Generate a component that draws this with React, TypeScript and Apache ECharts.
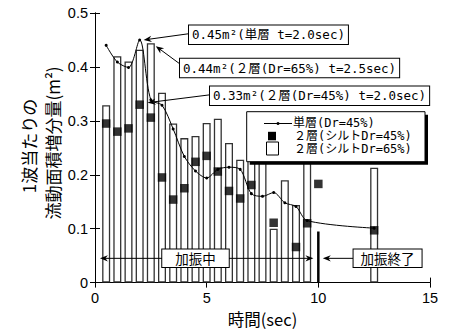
import React, { useEffect, useRef } from 'react';
import * as echarts from 'echarts';

// 2層(シルトDr=65%) open bars
const barTimes = [0.5, 1, 1.5, 2, 2.5, 3, 3.5, 4, 4.5, 5, 5.5, 6, 6.5, 7, 7.5, 8, 8.5, 9, 9.5, 12.5];
const barValues = [0.329, 0.42, 0.41, 0.432, 0.444, 0.352, 0.295, 0.268, 0.272, 0.296, 0.304, 0.259, 0.228, 0.228, 0.229, 0.1, 0.19, 0.144, 0.228, 0.213];

// 2層(シルトDr=45%) filled squares
const squareTimes = [0.5, 1, 1.5, 2, 2.5, 3, 3.5, 4, 4.5, 5, 5.5, 6, 6.5, 7, 8, 9, 9.5, 10, 12.5];
const squareValues = [0.295, 0.28, 0.286, 0.33, 0.306, 0.195, 0.154, 0.175, 0.224, 0.235, 0.206, 0.17, 0.156, 0.181, 0.111, 0.066, 0.11, 0.183, 0.097];

// 単層(Dr=45%) line
const lineTimes = [0.5, 1, 1.5, 2, 2.5, 3, 3.5, 4, 4.5, 5, 5.5, 6, 6.5, 7, 7.5, 8, 8.5, 9, 9.5, 12.5];
const lineValues = [0.44, 0.409, 0.399, 0.45, 0.339, 0.329, 0.285, 0.234, 0.207, 0.194, 0.21, 0.214, 0.21, 0.165, 0.16, 0.167, 0.148, 0.141, 0.115, 0.101];

const shakeEndTime = 10;
const shakeEndMarkTop = 0.095;
const shakingArrow = [0.22, 9.78];
const endArrow = [11.57, 10.2];
const arrowLevel = 0.045;

const seriesNames = ['単層(Dr=45%)', '２層(シルトDr=45%)', '２層(シルトDr=65%)'];
const annotations = [
  { text: '0.45m²(単層 t=2.0sec)', t: 2, v: 0.45 },
  { text: '0.44m²(２層(Dr=65%) t=2.5sec)', t: 2.5, v: 0.444 },
  { text: '0.33m²(２層(Dr=45%) t=2.0sec)', t: 2, v: 0.33 },
];

const MONO = '"DejaVu Sans Mono", "Noto Sans CJK JP", sans-serif';
const CJK = '"Noto Sans CJK JP", sans-serif';
const TICK = '"Liberation Sans", Arial, sans-serif';

export default function App() {
  const ref = useRef<HTMLDivElement>(null);
  useEffect(() => {
    document.body.style.margin = '0';
    const chart = echarts.init(ref.current!, null, { renderer: 'svg' });
    const axisCommon = {
      axisLine: { show: true, lineStyle: { color: '#000', width: 1 } },
      axisTick: { show: true, inside: true, length: 5, lineStyle: { color: '#000' } },
      splitLine: { show: false },
    };
    chart.setOption({
      animation: false,
      backgroundColor: '#fff',
      grid: { left: 95, right: 28, top: 13, bottom: 40 },
      xAxis: [
        {
          type: 'value', min: 0, max: 15, interval: 5, position: 'bottom', ...axisCommon,
          axisLabel: { color: '#000', fontSize: 14.5, fontFamily: TICK, margin: 8 },
          name: '時間(sec)', nameLocation: 'middle', nameGap: 20,
          nameTextStyle: { color: '#000', fontSize: 16.5, fontFamily: CJK },
        },
        {
          type: 'value', min: 0, max: 15, interval: 5, position: 'top', ...axisCommon,
          axisLabel: { show: false },
        },
      ],
      yAxis: [
        {
          type: 'value', min: 0, max: 0.5, interval: 0.1, position: 'left', ...axisCommon,
          axisLabel: {
            color: '#000', fontSize: 14.5, fontFamily: TICK, margin: 7,
            formatter: (v: number) => (v === 0 ? '0' : v.toFixed(1)),
          },
        },
        {
          type: 'value', min: 0, max: 0.5, interval: 0.1, position: 'right', ...axisCommon,
          axisLabel: { show: false },
        },
      ],
      series: [
        {
          name: seriesNames[2], type: 'bar', xAxisIndex: 0, yAxisIndex: 0,
          data: barTimes.map((t, i) => [t, barValues[i]]),
          barWidth: 8,
          itemStyle: { color: '#fff', borderColor: '#333', borderWidth: 1.3 },
          z: 1,
        },
        {
          name: seriesNames[1], type: 'scatter', xAxisIndex: 0, yAxisIndex: 0,
          data: squareTimes.map((t, i) => [t, squareValues[i]]),
          symbol: 'rect', symbolSize: 8.5,
          itemStyle: { color: '#000' },
          z: 3,
        },
        {
          name: seriesNames[0], type: 'line', xAxisIndex: 0, yAxisIndex: 0,
          data: lineTimes.map((t, i) => [t, lineValues[i]]),
          smooth: 0.3, symbol: 'circle', symbolSize: 3,
          lineStyle: { color: '#000', width: 1 },
          itemStyle: { color: '#000' },
          z: 4,
        },
        {
          name: 'end', type: 'line', xAxisIndex: 0, yAxisIndex: 0,
          data: [[shakeEndTime, 0], [shakeEndTime, shakeEndMarkTop]],
          symbol: 'none', lineStyle: { color: '#000', width: 2.5 }, silent: true, z: 2,
        },
      ],
    });

    const P = (x: number, y: number) =>
      chart.convertToPixel({ xAxisIndex: 0, yAxisIndex: 0 }, [x, y]) as number[];

    const arrow = (x1: number, y1: number, x2: number, y2: number) => {
      const a = Math.atan2(y2 - y1, x2 - x1);
      const c = Math.cos(a), s = Math.sin(a);
      const L = 8, W = 3.2;
      const bx = x2 - L * c, by = y2 - L * s;
      return [
        { type: 'line', shape: { x1, y1, x2: x2 - 3 * c, y2: y2 - 3 * s }, style: { stroke: '#000', lineWidth: 1 }, z: 50 },
        {
          type: 'polygon',
          shape: { points: [[x2, y2], [bx - s * W, by + c * W], [x2 - (L - 2.5) * c, y2 - (L - 2.5) * s], [bx + s * W, by - c * W]] },
          style: { fill: '#000' }, z: 50,
        },
      ];
    };

    const g: any[] = [];
    const boxPos = [
      { x: 189, y: 34.7, off: [4, 0] },
      { x: 180, y: 68, off: [5, 3] },
      { x: 210, y: 95.8, off: [8, -2] },
    ];
    annotations.forEach((a, i) => {
      const b = boxPos[i];
      const tgt = P(a.t, a.v);
      g.push(...arrow(b.x, b.y - (i === 1 ? 4 : 1), tgt[0] + b.off[0], tgt[1] + b.off[1]));
      g.push({
        type: 'text', z: 60,
        style: {
          text: a.text, x: b.x, y: b.y, align: 'left', verticalAlign: 'middle',
          fontSize: 12.5, fontFamily: MONO, fill: '#000',
          backgroundColor: '#fff', borderColor: '#000', borderWidth: 1, padding: [3, 3, 3, 3],
        },
      });
    });

    const s0 = P(shakingArrow[0], arrowLevel), s1 = P(shakingArrow[1], arrowLevel);
    const mid = (s0[0] + s1[0]) / 2;
    g.push(...arrow(mid, s0[1], s0[0], s0[1]));
    g.push(...arrow(mid, s1[1], s1[0], s1[1]));
    const e0 = P(endArrow[0], arrowLevel), e1 = P(endArrow[1], arrowLevel);
    g.push(...arrow(e0[0], e0[1], e1[0], e1[1]));
    const boxText = (text: string, cx: number, cy: number, padX: number) => ({
      type: 'text', z: 60,
      style: {
        text, x: cx, y: cy, align: 'center', verticalAlign: 'middle',
        fontSize: 13.5, fontFamily: CJK, fill: '#000',
        backgroundColor: '#fff', borderColor: '#000', borderWidth: 1, padding: [2, padX, 2, padX],
      },
    });
    const c1 = P(4.5, arrowLevel);
    g.push(boxText('加振中', c1[0], c1[1], 13));
    const c2 = P(13.1, arrowLevel);
    g.push(boxText('加振終了', c2[0], c2[1], 7));

    // legend
    const lx = 246.7, ly = 111.7, lw = 178.3, lh = 50;
    g.push({ type: 'rect', shape: { x: lx + 3, y: ly + 3, width: lw, height: lh }, style: { fill: '#000' }, z: 70 });
    g.push({ type: 'rect', shape: { x: lx, y: ly, width: lw, height: lh }, style: { fill: '#fff', stroke: '#000', lineWidth: 1 }, z: 71 });
    g.push({ type: 'line', shape: { x1: 264, y1: 123.5, x2: 292, y2: 123.5 }, style: { stroke: '#000', lineWidth: 1 }, z: 72 });
    g.push({ type: 'circle', shape: { cx: 278, cy: 123.5, r: 1.5 }, style: { fill: '#000' }, z: 72 });
    g.push({ type: 'rect', shape: { x: 268, y: 131.8, width: 8, height: 8.5 }, style: { fill: '#000' }, z: 72 });
    g.push({ type: 'rect', shape: { x: 266.5, y: 142, width: 12, height: 13 }, style: { fill: '#fff', stroke: '#000', lineWidth: 1 }, z: 72 });
    const legY = [123, 136, 148.5];
    const legX = [293, 294, 294];
    seriesNames.forEach((n, i) => {
      g.push({
        type: 'text', z: 72,
        style: { text: n, x: legX[i], y: legY[i], align: 'left', verticalAlign: 'middle', fontSize: 12, fontFamily: MONO, fill: '#000' },
      });
    });

    // y axis name (two lines, rotated)
    g.push({
      type: 'text', x: 28, y: 146, rotation: Math.PI / 2, z: 80,
      style: { text: '1波当たりの', x: 0, y: 0, align: 'center', verticalAlign: 'middle', fontSize: 17, fontFamily: CJK, fill: '#000' },
    });
    g.push({
      type: 'text', x: 52, y: 143, rotation: Math.PI / 2, z: 80,
      style: { text: '流動面積増分量(m²)', x: 0, y: 0, align: 'center', verticalAlign: 'middle', fontSize: 17, fontFamily: CJK, fill: '#000' },
    });

    chart.setOption({ graphic: { elements: g } });
    return () => chart.dispose();
  }, []);
  return <div ref={ref} style={{ width: 458, height: 332 }} />;
}
